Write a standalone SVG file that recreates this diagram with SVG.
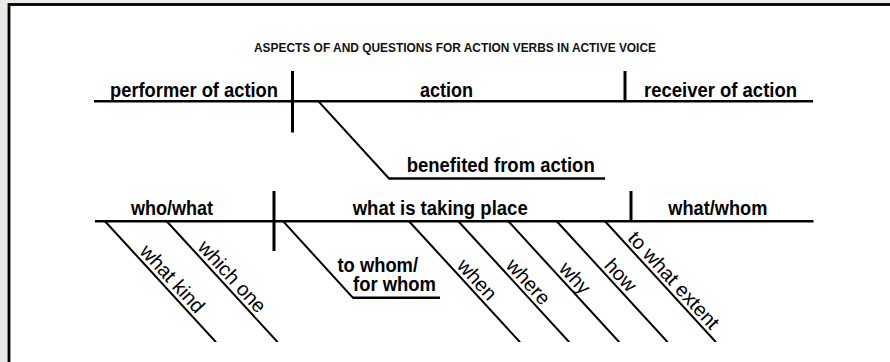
<svg xmlns="http://www.w3.org/2000/svg" width="890" height="362" viewBox="0 0 890 362">
<style>
.lbl{font-family:"Liberation Sans",Arial,sans-serif;font-weight:bold;font-size:20px;fill:#000}
.dlbl{font-family:"Liberation Sans",Arial,sans-serif;font-size:20px;fill:#000;text-anchor:middle}
.ttl{font-family:"Liberation Sans",Arial,sans-serif;font-weight:bold;font-size:13px;fill:#111}
.base{stroke:#000;stroke-width:2.6;fill:none}
.div{stroke:#000;stroke-width:3;fill:none}
.diag{stroke:#000;stroke-width:2;fill:none}
</style>
<defs>
<clipPath id="clip"><rect x="0" y="0" width="890" height="342"/></clipPath>
</defs>
<rect x="0" y="0" width="890" height="362" fill="#e9e9e5"/>
<rect x="9" y="4.5" width="900" height="400" fill="#fff" stroke="#000" stroke-width="2.8"/>

<g id="connectors">
  <!-- top diagram -->
  <line class="base" x1="94" y1="101.3" x2="813" y2="101.3"/>
  <line class="div" x1="292.5" y1="71" x2="292.5" y2="132.5"/>
  <line class="div" x1="625" y1="71" x2="625" y2="101.3"/>
  <line class="diag" x1="318.5" y1="101.3" x2="389" y2="178.5"/>
  <line class="base" x1="388.5" y1="178.5" x2="605" y2="178.5"/>
  <!-- bottom diagram -->
  <line class="base" x1="95" y1="221.2" x2="813.5" y2="221.2"/>
  <line class="div" x1="274" y1="191" x2="274" y2="251"/>
  <line class="div" x1="631" y1="191" x2="631" y2="221.2"/>
  <line class="diag" x1="283" y1="221.2" x2="353" y2="297.8"/>
  <line class="base" x1="352.5" y1="297.8" x2="440" y2="297.8"/>
  <g clip-path="url(#clip)">
    <line class="diag" x1="105" y1="221.2" x2="216" y2="342.2"/>
    <line class="diag" x1="166.7" y1="221.2" x2="277.7" y2="342.2"/>
    <line class="diag" x1="409" y1="221.2" x2="520" y2="342.2"/>
    <line class="diag" x1="458.3" y1="221.2" x2="569.3" y2="342.2"/>
    <line class="diag" x1="508.3" y1="221.2" x2="619.3" y2="342.2"/>
    <line class="diag" x1="556.7" y1="221.2" x2="667.7" y2="342.2"/>
    <line class="diag" x1="605" y1="221.2" x2="716" y2="342.2"/>
  </g>
</g>

<g id="title"><text class="ttl" x="254" y="52.3" textLength="402" lengthAdjust="spacingAndGlyphs">ASPECTS OF AND QUESTIONS FOR ACTION VERBS IN ACTIVE VOICE</text></g>

<g id="performer"><text class="lbl" x="110" y="96.5" textLength="168" lengthAdjust="spacingAndGlyphs">performer of action</text></g>
<g id="action"><text class="lbl" x="420" y="96.5" textLength="53" lengthAdjust="spacingAndGlyphs">action</text></g>
<g id="receiver"><text class="lbl" x="644" y="96.5" textLength="153" lengthAdjust="spacingAndGlyphs">receiver of action</text></g>
<g id="benefited"><text class="lbl" x="406.7" y="171.8" textLength="188" lengthAdjust="spacingAndGlyphs">benefited from action</text></g>

<g id="who-what"><text class="lbl" x="131" y="215" textLength="82" lengthAdjust="spacingAndGlyphs">who/what</text></g>
<g id="what-is-taking-place"><text class="lbl" x="352.7" y="215" textLength="175" lengthAdjust="spacingAndGlyphs">what is taking place</text></g>
<g id="what-whom"><text class="lbl" x="668.3" y="215" textLength="99" lengthAdjust="spacingAndGlyphs">what/whom</text></g>
<g id="to-whom-for-whom">
  <text class="lbl" x="337.5" y="271.7" textLength="80.5" lengthAdjust="spacingAndGlyphs">to whom/</text>
  <text class="lbl" x="353" y="290.5" textLength="83" lengthAdjust="spacingAndGlyphs">for whom</text>
</g>

<g id="what-kind" transform="translate(105,221.2) rotate(47.47)"><text class="dlbl" x="88" y="-4">what kind</text></g>
<g id="which-one" transform="translate(166.7,221.2) rotate(47.47)"><text class="dlbl" x="85" y="-4">which one</text></g>
<g id="when" transform="translate(409,221.2) rotate(47.47)"><text class="dlbl" x="89" y="-4">when</text></g>
<g id="where" transform="translate(458.3,221.2) rotate(47.47)"><text class="dlbl" x="92" y="-4">where</text></g>
<g id="why" transform="translate(508.3,221.2) rotate(47.47)"><text class="dlbl" x="87" y="-4">why</text></g>
<g id="how" transform="translate(556.7,221.2) rotate(47.47)"><text class="dlbl" x="83" y="-4">how</text></g>
<g id="to-what-extent" transform="translate(605,221.2) rotate(47.47)"><text class="dlbl" x="90" y="-4">to what extent</text></g>
</svg>
